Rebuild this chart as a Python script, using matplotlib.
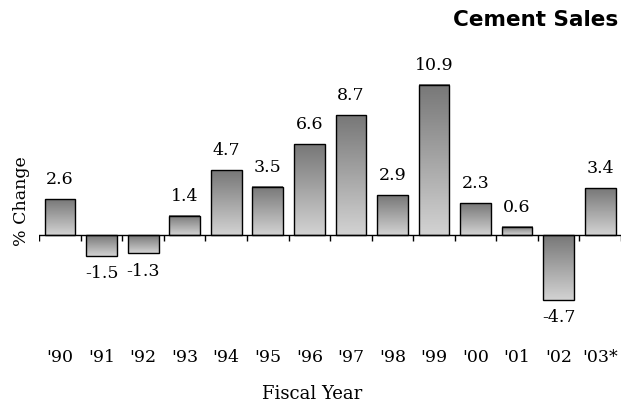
import numpy as np
import matplotlib.pyplot as plt
from matplotlib.colors import LinearSegmentedColormap
import matplotlib.transforms as mtransforms

years = ["'90", "'91", "'92", "'93", "'94", "'95", "'96",
         "'97", "'98", "'99", "'00", "'01", "'02", "'03*"]
pct_change = [2.6, -1.5, -1.3, 1.4, 4.7, 3.5, 6.6,
              8.7, 2.9, 10.9, 2.3, 0.6, -4.7, 3.4]

SERIF = "DejaVu Serif"
BAR_W = 0.74
FS = 12.5

fig = plt.figure(figsize=(6.24, 4.07), dpi=100)
ax = fig.add_axes([0.0629, 0.2029, 0.9323, 0.6425])
ax.axis("off")

# dark at the top of each bar, light at the bottom
grad = LinearSegmentedColormap.from_list("bar", ["#787878", "#d2d2d2"])
ramp = np.linspace(0, 1, 64).reshape(-1, 1)

x = np.arange(len(years))
for xi, v in zip(x, pct_change):
    lo, hi = min(0, v), max(0, v)
    ax.imshow(ramp, cmap=grad, aspect="auto", interpolation="bilinear",
              extent=[xi - BAR_W / 2, xi + BAR_W / 2, lo, hi], zorder=2)
    ax.bar(xi, v, width=BAR_W, facecolor="none", edgecolor="black",
           linewidth=1.0, zorder=3)
    if v >= 0:
        ax.annotate(f"{v:.1f}", (xi, v), xytext=(0, 8), textcoords="offset points",
                    ha="center", va="bottom", fontsize=FS, family=SERIF)
    else:
        ax.annotate(f"{v:.1f}", (xi, v), xytext=(0, -7), textcoords="offset points",
                    ha="center", va="top", fontsize=FS, family=SERIF)

# baseline with ticks at the category boundaries
ax.axhline(0, color="black", linewidth=1.0, zorder=4)
bounds = np.arange(len(years) + 1) - 0.5
ax.vlines(bounds, -0.45, 0, color="black", linewidth=1.0, zorder=4)
ax.set_ylim(-6.5, 12.5)
ax.set_xlim(-0.5, len(years) - 0.5)

trans = mtransforms.blended_transform_factory(ax.transData, fig.transFigure)
for xi, lab in zip(x, years):
    ax.text(xi, 1 - 357 / 407, lab, transform=trans, ha="center", va="center",
            fontsize=FS, family=SERIF)

fig.text(0.5, 1 - 394 / 407, "Fiscal Year", ha="center", va="center",
         fontsize=13, family=SERIF)
fig.text(22 / 624, 1 - 201 / 407, "% Change", ha="center", va="center",
         rotation=90, fontsize=12.5, family=SERIF)
fig.text(618 / 624, 1 - 20 / 407, "Cement Sales", ha="right", va="center",
         fontsize=15.5, fontweight="bold", family="DejaVu Sans")

fig.savefig("out.png", dpi=100)
